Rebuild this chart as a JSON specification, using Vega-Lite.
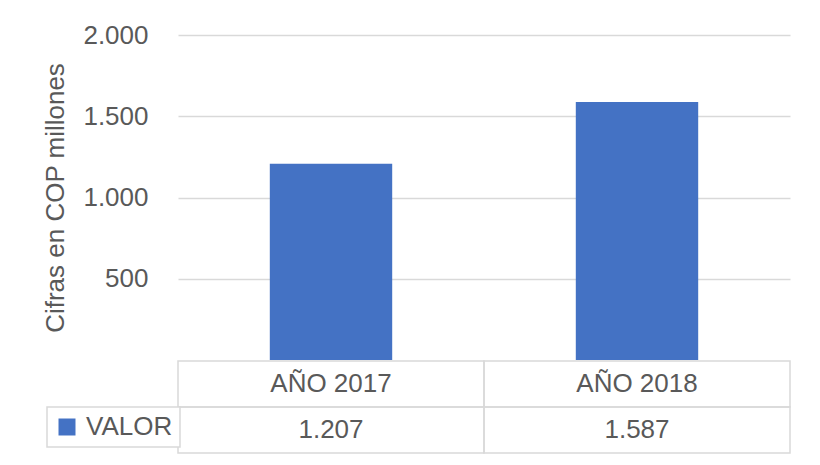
{
  "$schema": "https://vega.github.io/schema/vega-lite/v6.json",
  "background": "white",
  "padding": {"left": 42, "top": 22, "right": 5, "bottom": 5},
  "data": {"values": [
    {"anio": "AÑO 2017", "serie": "VALOR", "valor": 1207},
    {"anio": "AÑO 2018", "serie": "VALOR", "valor": 1587}
  ]},
  "spacing": 0,
  "resolve": {"scale": {"x": "independent"}},
  "vconcat": [
    {
      "width": 612,
      "height": 325,
      "view": {"stroke": null},
      "mark": {"type": "bar", "color": "#4472C4"},
      "encoding": {
        "x": {"field": "anio", "type": "nominal", "axis": null,
              "scale": {"domain": ["AÑO 2017", "AÑO 2018"], "paddingInner": 0.6, "paddingOuter": 0.3}},
        "y": {"field": "valor", "type": "quantitative",
              "scale": {"domain": [0, 2000], "nice": false},
              "axis": {"title": "Cifras en COP millones", "values": [500, 1000, 1500, 2000], "format": ",.0f",
                       "domain": false, "ticks": false, "grid": true, "gridColor": "#d9d9d9", "gridWidth": 1.5,
                       "labelPadding": 30, "titlePadding": 14}},
        "color": {"field": "serie", "type": "nominal",
                  "scale": {"domain": ["VALOR"], "range": ["#4472C4"]},
                  "legend": {"title": null, "orient": "none", "legendX": -131, "legendY": 372}}
      }
    },
    {
      "width": 612,
      "height": 92,
      "view": {"stroke": null},
      "encoding": {
        "x": {"field": "anio", "type": "nominal", "axis": null,
              "scale": {"domain": ["AÑO 2017", "AÑO 2018"], "paddingInner": 0, "paddingOuter": 0}}
      },
      "layer": [
        {"mark": {"type": "rect", "fill": null, "stroke": "#d9d9d9", "strokeWidth": 1.5},
         "encoding": {"y": {"datum": "cat", "type": "nominal", "axis": null,
                            "scale": {"domain": ["cat", "val"], "paddingInner": 0, "paddingOuter": 0}}}},
        {"mark": {"type": "rect", "fill": null, "stroke": "#d9d9d9", "strokeWidth": 1.5},
         "encoding": {"y": {"datum": "val", "type": "nominal"}}},
        {"mark": {"type": "text", "fontSize": 26, "color": "#595959"},
         "encoding": {"y": {"datum": "cat", "type": "nominal"}, "text": {"field": "anio"}}},
        {"mark": {"type": "text", "fontSize": 26, "color": "#595959"},
         "encoding": {"y": {"datum": "val", "type": "nominal"}, "text": {"field": "valor", "format": ",.0f"}}}
      ]
    }
  ],
  "config": {
    "locale": {"number": {"decimal": ",", "thousands": ".", "grouping": [3], "currency": ["$", ""]}},
    "font": "Liberation Sans",
    "axis": {"labelFont": "Liberation Sans", "titleFont": "Liberation Sans", "labelFontSize": 26,
             "titleFontSize": 26, "titleFontWeight": "normal", "labelColor": "#595959", "titleColor": "#595959"},
    "legend": {"labelFont": "Liberation Sans", "labelFontSize": 26, "labelColor": "#595959",
               "strokeColor": "#d9d9d9", "strokeWidth": 1.5, "fillColor": "white", "padding": 7,
               "symbolType": "square", "symbolSize": 289, "symbolStrokeWidth": 0, "symbolOffset": 0, "labelOffset": 6}
  }
}
